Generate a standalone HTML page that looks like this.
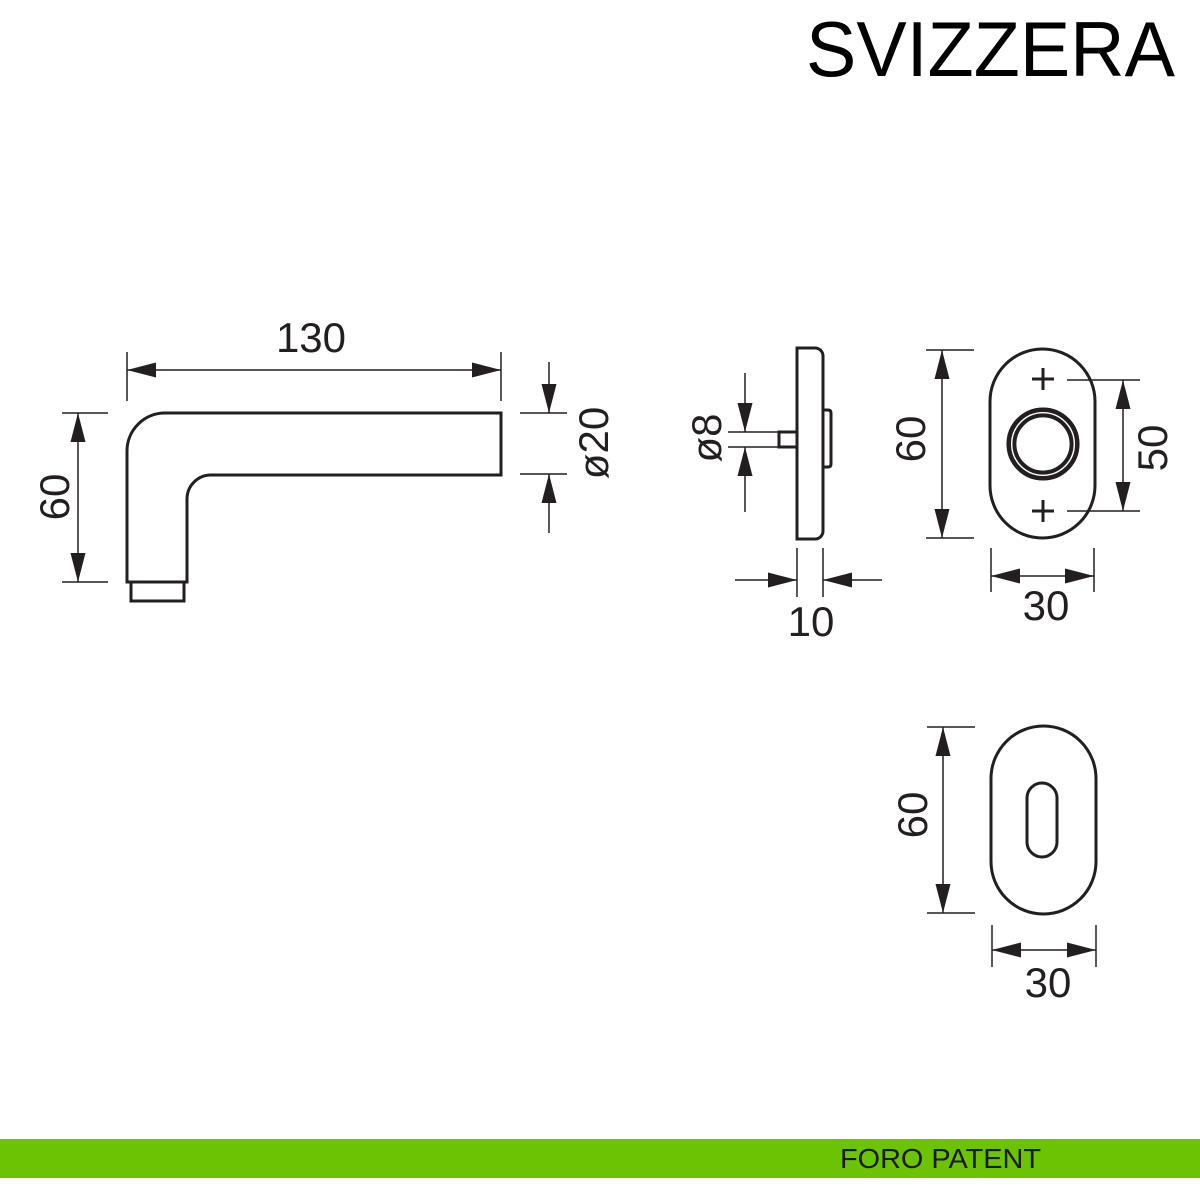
<!DOCTYPE html>
<html>
<head>
<meta charset="utf-8">
<style>
  html, body { margin:0; padding:0; background:#ffffff; }
  body { width:1200px; height:1200px; overflow:hidden; }
  svg { display:block; }
  text { font-family: "Liberation Sans", Arial, sans-serif; fill:#231f20; }
</style>
</head>
<body>
<svg width="1200" height="1200" viewBox="0 0 1200 1200" xmlns="http://www.w3.org/2000/svg">
  <rect x="0" y="0" width="1200" height="1200" fill="#ffffff"/>

  <!-- Title -->
  <text x="806" y="76" font-size="78" textLength="369" lengthAdjust="spacingAndGlyphs" style="fill:#000">SVIZZERA</text>

  <!-- ============ HANDLE ============ -->
  <g fill="none" stroke="#231f20" stroke-width="3" stroke-linejoin="miter">
    <path d="M 127 582 L 127 451 A 38 38 0 0 1 165 413 L 501 413 L 501 475 L 211 475 A 24 24 0 0 0 187 499 L 187 582 Z"/>
    <rect x="131" y="582" width="53" height="19"/>
  </g>

  <g stroke="#231f20" stroke-width="1.5" fill="none">
    <!-- 130 -->
    <line x1="127" y1="352" x2="127" y2="401"/>
    <line x1="501" y1="352" x2="501" y2="401"/>
    <line x1="127" y1="370" x2="501" y2="370"/>
    <!-- 60 left -->
    <line x1="62" y1="413" x2="108" y2="413"/>
    <line x1="62" y1="582" x2="108" y2="582"/>
    <line x1="78" y1="413" x2="78" y2="582"/>
    <!-- ø20 -->
    <line x1="520" y1="413" x2="567" y2="413"/>
    <line x1="520" y1="474" x2="567" y2="474"/>
    <line x1="549" y1="362" x2="549" y2="413"/>
    <line x1="549" y1="474" x2="549" y2="533"/>
  </g>
  <g fill="#231f20">
    <polygon points="127,370 156,362.5 156,377.5"/>
    <polygon points="501,370 472,362.5 472,377.5"/>
    <polygon points="78,413 70.5,442 85.5,442"/>
    <polygon points="78,582 70.5,553 85.5,553"/>
    <polygon points="549,413 541.5,384 556.5,384"/>
    <polygon points="549,474 541.5,503 556.5,503"/>
  </g>
  <text x="311" y="352" font-size="42" text-anchor="middle">130</text>
  <text transform="translate(69,497) rotate(-90)" font-size="42" text-anchor="middle">60</text>
  <text transform="translate(608,443) rotate(-90)" font-size="42" text-anchor="middle">ø20</text>

  <!-- ============ SIDE VIEW ============ -->
  <g fill="none" stroke="#231f20" stroke-width="3">
    <path d="M 797 348 L 815 348 A 8 8 0 0 1 823 356 L 823 531 A 8 8 0 0 1 815 539 L 797 539 Z"/>
    <path d="M 823 410 L 828 410 Q 831 410 831 413 L 831 464 Q 831 467 828 467 L 823 467"/>
    <rect x="779" y="432" width="18" height="15"/>
  </g>
  <g stroke="#231f20" stroke-width="1.5" fill="none">
    <line x1="728" y1="432" x2="779" y2="432"/>
    <line x1="728" y1="447" x2="779" y2="447"/>
    <line x1="745" y1="373" x2="745" y2="432"/>
    <line x1="745" y1="447" x2="745" y2="512"/>
    <line x1="797" y1="548" x2="797" y2="597"/>
    <line x1="823" y1="548" x2="823" y2="597"/>
    <line x1="735" y1="580" x2="797" y2="580"/>
    <line x1="823" y1="580" x2="882" y2="580"/>
  </g>
  <g fill="#231f20">
    <polygon points="745,432 737.5,403 752.5,403"/>
    <polygon points="745,447 737.5,476 752.5,476"/>
    <polygon points="797,580 768,572.5 768,587.5"/>
    <polygon points="823,580 852,572.5 852,587.5"/>
  </g>
  <text transform="translate(721,438) rotate(-90)" font-size="42" text-anchor="middle">ø8</text>
  <text x="811" y="636" font-size="42" text-anchor="middle">10</text>

  <!-- ============ ROSETTE FRONT ============ -->
  <g fill="none" stroke="#231f20" stroke-width="3">
    <rect x="990" y="349" width="105" height="189" rx="52.5" ry="52.5"/>
    <line x1="1032" y1="379" x2="1054" y2="379"/>
    <line x1="1043" y1="368" x2="1043" y2="390"/>
    <line x1="1032" y1="511" x2="1054" y2="511"/>
    <line x1="1043" y1="500" x2="1043" y2="522"/>
  </g>
  <g fill="none" stroke="#231f20">
    <circle cx="1043" cy="444" r="34.3" stroke-width="4.5"/>
    <circle cx="1043" cy="444" r="28.6" stroke-width="4"/>
  </g>
  <g stroke="#231f20" stroke-width="1.5" fill="none">
    <!-- 50 -->
    <line x1="1067" y1="380" x2="1140" y2="380"/>
    <line x1="1067" y1="511" x2="1140" y2="511"/>
    <line x1="1123" y1="380" x2="1123" y2="511"/>
    <!-- 60 -->
    <line x1="926" y1="350" x2="974" y2="350"/>
    <line x1="926" y1="538" x2="974" y2="538"/>
    <line x1="942" y1="350" x2="942" y2="538"/>
    <!-- 30 -->
    <line x1="991" y1="548" x2="991" y2="592"/>
    <line x1="1094" y1="548" x2="1094" y2="592"/>
    <line x1="991" y1="576" x2="1094" y2="576"/>
  </g>
  <g fill="#231f20">
    <polygon points="1123,380 1115.5,409 1130.5,409"/>
    <polygon points="1123,511 1115.5,482 1130.5,482"/>
    <polygon points="942,350 934.5,379 949.5,379"/>
    <polygon points="942,538 934.5,509 949.5,509"/>
    <polygon points="991,576 1020,568.5 1020,583.5"/>
    <polygon points="1094,576 1065,568.5 1065,583.5"/>
  </g>
  <text transform="translate(1167,448) rotate(-90)" font-size="42" text-anchor="middle">50</text>
  <text transform="translate(925,439) rotate(-90)" font-size="42" text-anchor="middle">60</text>
  <text x="1046" y="620" font-size="42" text-anchor="middle">30</text>

  <!-- ============ ESCUTCHEON ============ -->
  <g fill="none" stroke="#231f20" stroke-width="3">
    <rect x="991" y="726" width="105" height="188" rx="52.5" ry="52.5"/>
    <rect x="1027" y="783" width="30" height="74" rx="15" ry="15"/>
  </g>
  <g stroke="#231f20" stroke-width="1.5" fill="none">
    <line x1="927" y1="727" x2="975" y2="727"/>
    <line x1="927" y1="913" x2="975" y2="913"/>
    <line x1="943" y1="727" x2="943" y2="913"/>
    <line x1="992" y1="925" x2="992" y2="967"/>
    <line x1="1096" y1="925" x2="1096" y2="967"/>
    <line x1="992" y1="950" x2="1096" y2="950"/>
  </g>
  <g fill="#231f20">
    <polygon points="943,727 935.5,756 950.5,756"/>
    <polygon points="943,913 935.5,884 950.5,884"/>
    <polygon points="992,950 1021,942.5 1021,957.5"/>
    <polygon points="1096,950 1067,942.5 1067,957.5"/>
  </g>
  <text transform="translate(927,815) rotate(-90)" font-size="42" text-anchor="middle">60</text>
  <text x="1048" y="997" font-size="42" text-anchor="middle">30</text>

  <!-- ============ GREEN BAR ============ -->
  <rect x="0" y="1139" width="1200" height="39" fill="#6cc304"/>
  <text x="840" y="1168" font-size="28" textLength="201" lengthAdjust="spacingAndGlyphs" style="fill:#1a1a1a">FORO PATENT</text>
</svg>
</body>
</html>
